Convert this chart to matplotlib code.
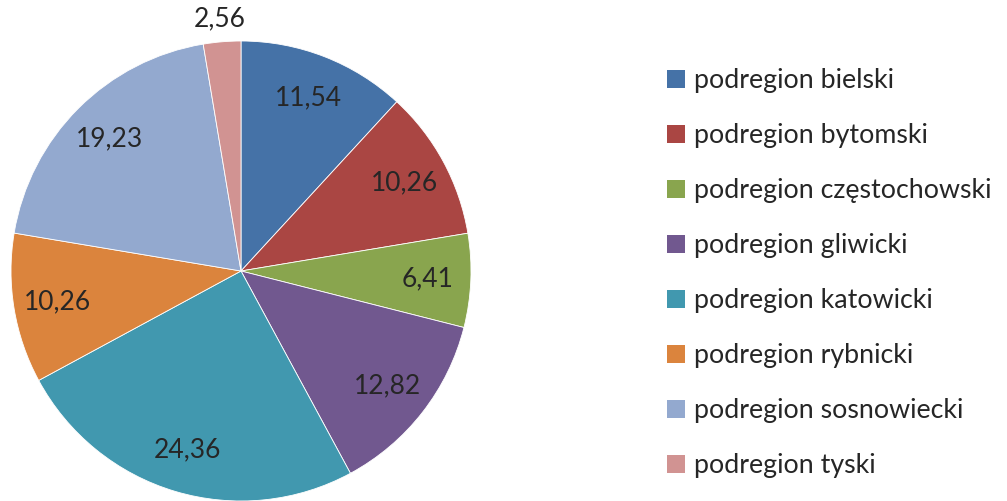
import numpy as np
import matplotlib.pyplot as plt
from matplotlib.patches import Patch

plt.rcParams['font.family'] = ['Lato', 'DejaVu Sans']

labels = ["podregion bielski", "podregion bytomski", "podregion częstochowski",
          "podregion gliwicki", "podregion katowicki", "podregion rybnicki",
          "podregion sosnowiecki", "podregion tyski"]
values = [11.54, 10.26, 6.41, 12.82, 24.36, 10.26, 19.23, 2.56]
value_text = ["11,54", "10,26", "6,41", "12,82", "24,36", "10,26", "19,23", "2,56"]
colors = ["#4572A7", "#AA4643", "#89A54E", "#71588F",
          "#4198AF", "#DB843D", "#93A9CF", "#D19392"]

fig = plt.figure(figsize=(10.07, 5.01), dpi=100)
ax = fig.add_axes([11 / 1007, 0, 460 / 1007, 460 / 501])

wedges, _ = ax.pie(values, colors=colors, startangle=90, counterclock=False,
                   radius=1, wedgeprops=dict(edgecolor="white", linewidth=0.6))
ax.set_xlim(-1, 1)
ax.set_ylim(-1, 1)
ax.set_aspect("equal")

# value labels inside the slices, the small one just outside
total = sum(values)
angle = 90.0
for v, t in zip(values, value_text):
    span = v / total * 360
    mid = np.deg2rad(angle - span / 2)
    angle -= span
    r = 0.81 if v > 5 else 1.1
    ax.text(r * np.cos(mid), r * np.sin(mid), t, ha="center", va="center",
            fontsize=19, color="#262626")

handles = [Patch(facecolor=c, edgecolor="none") for c in colors]
fig.legend(handles, labels, loc="upper left", bbox_to_anchor=(643 / 1007, 1 - 44 / 501),
           frameon=False, fontsize=19.3, handlelength=0.65, handleheight=0.65,
           handletextpad=0.35, labelspacing=1.12, labelcolor="#262626")

fig.savefig("out.png", dpi=100)
